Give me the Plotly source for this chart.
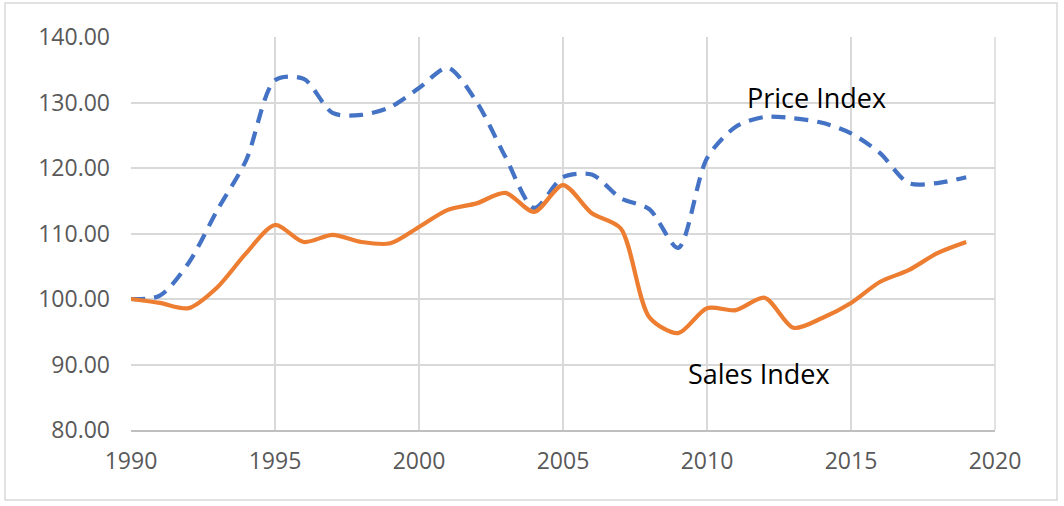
import plotly.graph_objects as go

years = list(range(1990, 2020))
price_index = [100.0, 100.5, 105.5, 113.6, 121.2, 133.4, 133.6, 128.4, 128.1, 129.3,
               132.2, 135.3, 130.1, 121.7, 113.9, 118.6, 119.0, 115.4, 113.7, 107.8,
               121.5, 126.3, 127.8, 127.6, 126.9, 125.3, 122.3, 117.7, 117.7, 118.6]
sales_index = [100.0, 99.4, 98.6, 101.8, 107.0, 111.3, 108.7, 109.8, 108.7, 108.5,
               111.0, 113.6, 114.6, 116.2, 113.3, 117.4, 113.1, 110.8, 97.2, 94.8,
               98.6, 98.3, 100.2, 95.6, 97.1, 99.4, 102.6, 104.4, 107.0, 108.7]
x_ticks = [1990, 1995, 2000, 2005, 2010, 2015, 2020]
y_ticks = [80, 90, 100, 110, 120, 130, 140]

font_family = "'Open Sans', Lato, sans-serif"

fig = go.Figure()
fig.add_trace(go.Scatter(x=years, y=price_index, mode="lines", name="Price Index",
                         line=dict(color="#4472C4", width=4.2, dash="14px,9px", shape="spline", smoothing=0.8)))
fig.add_trace(go.Scatter(x=years, y=sales_index, mode="lines", name="Sales Index",
                         line=dict(color="#ED7D31", width=4.2, shape="spline", smoothing=0.8)))

fig.update_layout(
    width=1064, height=506,
    margin=dict(l=131, r=69, t=37, b=76),
    paper_bgcolor="white", plot_bgcolor="white",
    showlegend=False,
    font=dict(family=font_family, size=23, color="#595959"),
    xaxis=dict(range=[1990, 2020], tickvals=x_ticks, ticktext=[str(v) for v in x_ticks],
               showgrid=True, gridcolor="#D9D9D9", gridwidth=1.5,
               showline=True, linecolor="#BFBFBF", linewidth=1.5,
               ticks="", zeroline=False, ticklabelstandoff=10),
    yaxis=dict(range=[80, 140], tickvals=y_ticks, ticktext=[f"{v:.2f}" for v in y_ticks],
               showgrid=True, gridcolor="#D9D9D9", gridwidth=1.5,
               showline=False, ticks="", zeroline=False, ticklabelstandoff=20),
    annotations=[
        dict(x=2013.8, y=130.7, xref="x", yref="y", text="Price Index", showarrow=False,
             font=dict(family=font_family, size=27, color="black")),
        dict(x=2011.8, y=88.6, xref="x", yref="y", text="Sales Index", showarrow=False,
             font=dict(family=font_family, size=27, color="black")),
    ],
    shapes=[
        dict(type="rect", xref="paper", yref="paper", x0=-0.1458, x1=1.0718, y0=-0.178, y1=1.0865,
             line=dict(color="#D9D9D9", width=1.5), fillcolor="rgba(0,0,0,0)", layer="below"),
        dict(type="line", xref="paper", yref="paper", x0=1, x1=1, y0=0, y1=1,
             line=dict(color="#D9D9D9", width=1.5), layer="below"),
    ],
)

fig.write_html("out.html", config={"displayModeBar": False},
               post_script="document.body.style.margin='0';document.body.style.overflow='hidden';")
